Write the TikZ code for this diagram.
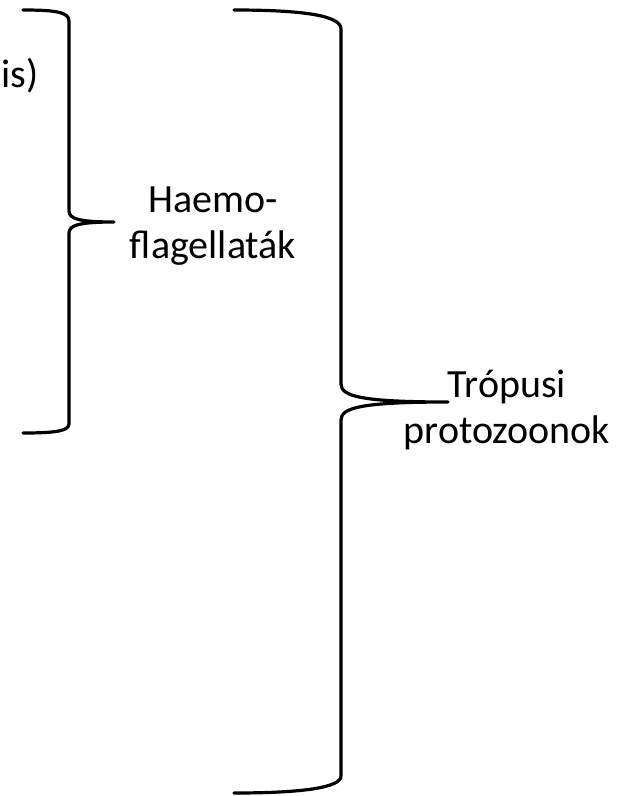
\documentclass[tikz,border=0pt]{standalone}
\usepackage{fontspec}
\setmainfont{Carlito}
\tikzset{
  brace/.style={line width=3.2pt, line cap=round, line join=round},
  lbl/.style={inner sep=0pt, anchor=base, font=\fontsize{40}{46}\selectfont}
}
\begin{document}
\begin{tikzpicture}[x=1pt,y=-1pt]
\useasboundingbox (0,0) rectangle (620,796);
% brace 1
\draw[brace] (23,10) .. controls (55,10) and (69,12) .. (69,21) -- (69,211)
  .. controls (69,219) and (80,222) .. (114,222)
  .. controls (80,222) and (69,225) .. (69,233) -- (69,424)
  .. controls (69,431) and (55,433) .. (23,433);
% brace 2
\draw[brace] (234,10) .. controls (300,10) and (341,15) .. (341,29) -- (341,384)
  .. controls (341,396) and (360,402) .. (448,402)
  .. controls (360,402) and (341,408) .. (341,420) -- (341,776)
  .. controls (341,788) and (300,793) .. (234,793);
% labels
\node[lbl, anchor=base west] (is) at (1,87) {is)};
\node[lbl] (h1) at (213,212) {Haemo-};
\node[lbl] (h2) at (213,258) {flagellaták};
\node[lbl] (t1) at (507,397) {Trópusi};
\node[lbl] (t2) at (507,443) {protozoonok};
\end{tikzpicture}
\end{document}
